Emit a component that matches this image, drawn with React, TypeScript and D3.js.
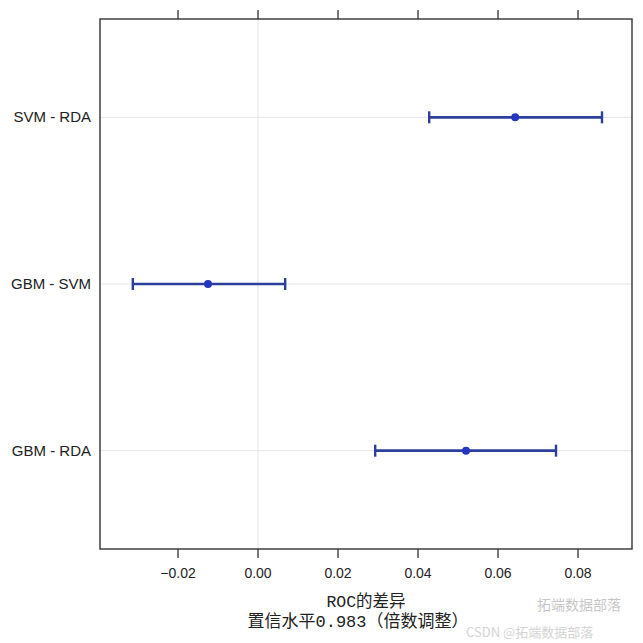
import React from "react";
import * as d3 from "d3";

const comparisons = ["SVM - RDA", "GBM - SVM", "GBM - RDA"];
const estimates = [0.0643, -0.0125, 0.052];
const lowers = [0.0428, -0.0313, 0.0293];
const uppers = [0.0860, 0.0068, 0.0745];
const xTicks = [-0.02, 0.0, 0.02, 0.04, 0.06, 0.08];
const xTitle = "ROC的差异";
const xSubtitle = "置信水平0.983（倍数调整）";

const W = 643, H = 643;
const L = 100, R = 632, T = 19, B = 549;

export default function App() {
  const x = d3.scaleLinear().domain([-0.0395, 0.0935]).range([L, R]);
  const y = d3.scalePoint<string>().domain(comparisons).range([T, B]).padding(0.59);
  const fmt = d3.format(".2f");
  const lineColor = "#2c3f9c";
  const ptColor = "#2536c0";
  return (
    <svg width={W} height={H} style={{ position: "absolute", left: 0, top: 0, background: "#fff" }}>
      <rect x={0} y={0} width={W} height={H} fill="#fff" />
      {/* grid */}
      {comparisons.map((c) => (
        <line key={"g" + c} x1={L} x2={R} y1={y(c)} y2={y(c)} stroke="#e4e4e4" strokeWidth={1} />
      ))}
      <line x1={x(0)} x2={x(0)} y1={T} y2={B} stroke="#e4e4e4" strokeWidth={1} />
      {/* error bars */}
      {comparisons.map((c, i) => {
        const yy = y(c)!;
        return (
          <g key={"e" + c}>
            <line x1={x(lowers[i])} x2={x(uppers[i])} y1={yy} y2={yy} stroke={lineColor} strokeWidth={2.6} />
            <line x1={x(lowers[i])} x2={x(lowers[i])} y1={yy - 6} y2={yy + 6} stroke={lineColor} strokeWidth={2.4} />
            <line x1={x(uppers[i])} x2={x(uppers[i])} y1={yy - 6} y2={yy + 6} stroke={lineColor} strokeWidth={2.4} />
            <circle cx={x(estimates[i])} cy={yy} r={4} fill={ptColor} />
          </g>
        );
      })}
      {/* frame */}
      <rect x={L} y={T} width={R - L} height={B - T} fill="none" stroke="#333" strokeWidth={1.4} />
      {/* ticks */}
      {xTicks.map((t) => (
        <g key={"t" + t}>
          <line x1={x(t)} x2={x(t)} y1={T} y2={T - 9} stroke="#333" strokeWidth={1.3} />
          <line x1={x(t)} x2={x(t)} y1={B} y2={B + 9} stroke="#333" strokeWidth={1.3} />
          <text x={x(t)} y={578} textAnchor="middle" fontFamily="Liberation Sans, Arial, sans-serif" fontSize={14} fill="#222">
            {fmt(t)}
          </text>
        </g>
      ))}
      {/* y labels */}
      {comparisons.map((c) => (
        <text key={"l" + c} x={91} y={y(c)! + 5} textAnchor="end" fontFamily="Liberation Sans, Arial, sans-serif" fontSize={15} fill="#222">
          {c}
        </text>
      ))}
      {/* titles */}
      <text x={(L + R) / 2} y={607} textAnchor="middle" fontFamily="Liberation Mono, 'Noto Sans CJK SC', monospace" fontSize={16.5} fill="#222">
        {xTitle}
      </text>
      <text x={358} y={627} textAnchor="middle" fontFamily="Liberation Mono, 'Noto Sans CJK SC', monospace" fontSize={17} fill="#222">
        {xSubtitle}
      </text>
      {/* watermark */}
      <text x={621} y={610} textAnchor="end" fontFamily="'Noto Sans CJK SC', sans-serif" fontSize={14} fill="#999" opacity={0.55}>
        拓端数据部落
      </text>
      <text x={466} y={637} textAnchor="start" fontFamily="'Noto Sans CJK SC', sans-serif" fontSize={13} fill="#aaa" opacity={0.5}>
        CSDN @拓端数据部落
      </text>
    </svg>
  );
}
